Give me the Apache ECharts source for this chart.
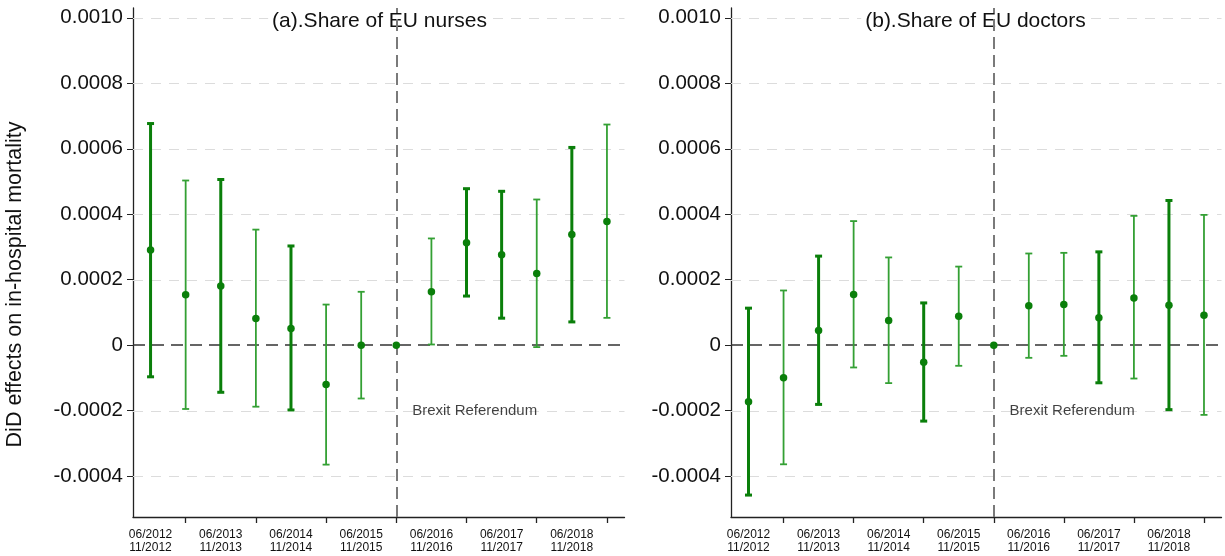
<!DOCTYPE html>
<html>
<head>
<meta charset="utf-8">
<script src="https://cdn.jsdelivr.net/npm/echarts@6/dist/echarts.min.js"></script>
<style>
html,body{margin:0;padding:0;background:#fff;}
#c{width:1225px;height:556px;}
</style>
</head>
<body>
<div id="c"></div>
<script>
// ---------- data ----------
const periods = [1, 2, 3, 4, 5, 6, 7, 8, 9, 10, 11, 12, 13, 14];
const referencePeriod = 8;
const periodLabelPositions = [1, 3, 5, 7, 9, 11, 13];
const periodLabels = ['06/2012\n11/2012', '06/2013\n11/2013', '06/2014\n11/2014', '06/2015\n11/2015',
                      '06/2016\n11/2016', '06/2017\n11/2017', '06/2018\n11/2018'];
const periodTickPositions = [2, 4, 6, 8, 10, 12, 14];
const yTicks = [-0.0004, -0.0002, 0, 0.0002, 0.0004, 0.0006, 0.0008, 0.0010];

const nursesCoef = [0.000291, 0.000154, 0.000181, 0.0000815, 0.000051, -0.00012, 0.0, 0,
                    0.000163, 0.000313, 0.000276, 0.000219, 0.000338, 0.000378];
const nursesLow  = [-0.0000967, -0.000195, -0.000144, -0.000188, -0.000198, -0.000365, -0.000163, null,
                    0.000002, 0.00015, 0.0000824, -0.000006, 0.000071, 0.0000834];
const nursesHigh = [0.000677, 0.000503, 0.000506, 0.000353, 0.000303, 0.000124, 0.000163, null,
                    0.000326, 0.000478, 0.00047, 0.000445, 0.000604, 0.000674];

const doctorsCoef = [-0.000173, -0.0000998, 0.0000448, 0.000155, 0.0000753, -0.0000519, 0.0000885, 0,
                     0.00012, 0.000124, 0.0000835, 0.000144, 0.000122, 0.0000916];
const doctorsLow  = [-0.000458, -0.000364, -0.000181, -0.0000682, -0.000116, -0.000232, -0.0000631, null,
                     -0.0000387, -0.0000326, -0.000115, -0.000102, -0.000197, -0.000213];
const doctorsHigh = [0.000113, 0.000167, 0.000272, 0.000379, 0.000268, 0.000129, 0.00024, null,
                     0.00028, 0.000282, 0.000285, 0.000395, 0.000442, 0.000398];

// line weight as it appears in the picture (1 = heavy, 0 = light)
const nursesWeight  = [1, 0, 1, 0, 1, 0, 0, 0, 0, 1, 1, 0, 1, 0];
const doctorsWeight = [1, 0, 1, 0, 0, 1, 0, 0, 0, 0, 1, 0, 1, 0];

const panelTitles = ['(a).Share of EU nurses', '(b).Share of EU doctors'];
const yAxisTitle = 'DiD effects on in-hospital mortality';
const annotationText = 'Brexit Referendum';
const annotationPos = [8.45, -0.0002];

// ---------- chart ----------
const FONT = "'Liberation Sans', Arial, Helvetica, sans-serif";
const chart = echarts.init(document.getElementById('c'), null, {renderer: 'canvas'});

const grids = [
  {left: 133, right: 600.5, top: 8, bottom: 39},
  {left: 731, right: 3.5, top: 8, bottom: 39}
];

function xAxisFor(i) {
  return {
    gridIndex: i, type: 'value', min: 0.5, max: 14.5,
    axisLine: {show: true, onZero: false, lineStyle: {color: '#222', width: 1.3}},
    axisTick: {show: true, length: 6, lineStyle: {color: '#222', width: 1.3},
               customValues: periodTickPositions},
    axisLabel: {show: true, customValues: periodLabelPositions, margin: 11,
                fontFamily: FONT, fontSize: 12, lineHeight: 13, color: '#111',
                formatter: v => periodLabels[periodLabelPositions.indexOf(Math.round(v))] || ''},
    splitLine: {show: false}
  };
}
function yAxisFor(i) {
  return {
    gridIndex: i, type: 'value', min: -0.000525, max: 0.00103,
    axisLine: {show: true, onZero: false, lineStyle: {color: '#222', width: 1.3}},
    axisTick: {show: true, length: 6, customValues: yTicks, lineStyle: {color: '#222', width: 1}},
    axisLabel: {show: true, customValues: yTicks, margin: 10,
                fontFamily: FONT, fontSize: 20.5, color: '#111',
                formatter: v => Math.abs(v) < 1e-12 ? '0' : v.toFixed(4)},
    splitLine: {show: false}
  };
}

function errorData(low, high, weight) {
  const out = [];
  periods.forEach((p, k) => {
    if (low[k] !== null && high[k] !== null) out.push([p, low[k], high[k], weight[k]]);
  });
  return out;
}

function renderBar(params, api) {
  const x = api.value(0), lo = api.value(1), hi = api.value(2), heavy = api.value(3) === 1;
  const pTop = api.coord([x, hi]);
  const pBot = api.coord([x, lo]);
  const style = {stroke: heavy ? '#0a7f0a' : '#34a034', lineWidth: heavy ? 3 : 1.8};
  const cap = 3.5;
  return {
    type: 'group',
    children: [
      {type: 'line', shape: {x1: pTop[0], y1: pTop[1], x2: pBot[0], y2: pBot[1]}, style},
      {type: 'line', shape: {x1: pTop[0] - cap, y1: pTop[1], x2: pTop[0] + cap, y2: pTop[1]}, style},
      {type: 'line', shape: {x1: pBot[0] - cap, y1: pBot[1], x2: pBot[0] + cap, y2: pBot[1]}, style}
    ]
  };
}

// light dashed horizontal grid lines at the tick values (drawn through the axis scale)
function renderGridLine(params, api) {
  const v = api.value(0);
  const cs = params.coordSys;
  const y = Math.round(api.coord([1, v])[1]) + 0.5;
  return {
    type: 'line',
    shape: {x1: cs.x, y1: y, x2: cs.x + cs.width, y2: y},
    style: {stroke: '#dcdcdc', lineWidth: 1, lineDash: [10, 8]}
  };
}
function gridLineSeries(i) {
  return {
    type: 'custom', xAxisIndex: i, yAxisIndex: i, z: 1, silent: true,
    renderItem: renderGridLine,
    data: yTicks.filter(v => Math.abs(v) > 1e-12).map(v => [v]),
    encode: {y: 0}
  };
}
function zeroLineSeries(i) {
  return {
    type: 'line', xAxisIndex: i, yAxisIndex: i, data: [], z: 2, silent: true,
    markLine: {
      z: 2, silent: true, symbol: 'none', animation: false, label: {show: false},
      lineStyle: {color: '#333', type: [12, 7], width: 1.5},
      data: [{yAxis: 0}]
    }
  };
}
function refLineSeries(i) {
  return {
    type: 'line', xAxisIndex: i, yAxisIndex: i, data: [], z: 120, silent: true,
    markLine: {
      z: 120, silent: true, symbol: 'none', animation: false, label: {show: false},
      lineStyle: {color: '#7a7a7a', type: [12, 6], width: 2},
      data: [{xAxis: referencePeriod}]
    }
  };
}

function panelSeries(i, coef, low, high, weight) {
  return [
    gridLineSeries(i),
    zeroLineSeries(i),
    refLineSeries(i),
    {
      type: 'custom', xAxisIndex: i, yAxisIndex: i, z: 3, silent: true,
      renderItem: renderBar, data: errorData(low, high, weight),
      encode: {x: 0, y: [1, 2]}
    },
    {
      type: 'scatter', xAxisIndex: i, yAxisIndex: i, z: 130, silent: true,
      symbol: 'circle', symbolSize: 7.5, itemStyle: {color: '#0a7f0a', opacity: 1},
      data: periods.map((p, k) => [p, coef[k]])
    },
    {
      type: 'scatter', xAxisIndex: i, yAxisIndex: i, z: 4, silent: true,
      symbolSize: 0.1, itemStyle: {color: 'transparent'},
      label: {show: true, position: 'right', distance: 0, formatter: annotationText,
              fontFamily: FONT, fontSize: 15, color: '#111'},
      data: [annotationPos]
    }
  ];
}

const option = {
  animation: false,
  backgroundColor: '#fff',
  grid: grids,
  xAxis: [xAxisFor(0), xAxisFor(1)],
  yAxis: [yAxisFor(0), yAxisFor(1)],
  graphic: [
    {type: 'text', x: 379.5, y: 21, z: 100,
     style: {text: panelTitles[0], font: '21px ' + FONT, fill: '#111', align: 'center',
             verticalAlign: 'middle', backgroundColor: '#fff', padding: [2, 4]}},
    {type: 'text', x: 975.5, y: 21, z: 100,
     style: {text: panelTitles[1], font: '21px ' + FONT, fill: '#111', align: 'center',
             verticalAlign: 'middle', backgroundColor: '#fff', padding: [2, 4]}},
    {type: 'text', x: 15.5, y: 284.5, rotation: Math.PI / 2, z: 100,
     style: {text: yAxisTitle, font: '21.5px ' + FONT, fill: '#111', align: 'center',
             verticalAlign: 'middle'}}
  ],
  series: panelSeries(0, nursesCoef, nursesLow, nursesHigh, nursesWeight)
    .concat(panelSeries(1, doctorsCoef, doctorsLow, doctorsHigh, doctorsWeight))
};
chart.setOption(option);
</script>
</body>
</html>
